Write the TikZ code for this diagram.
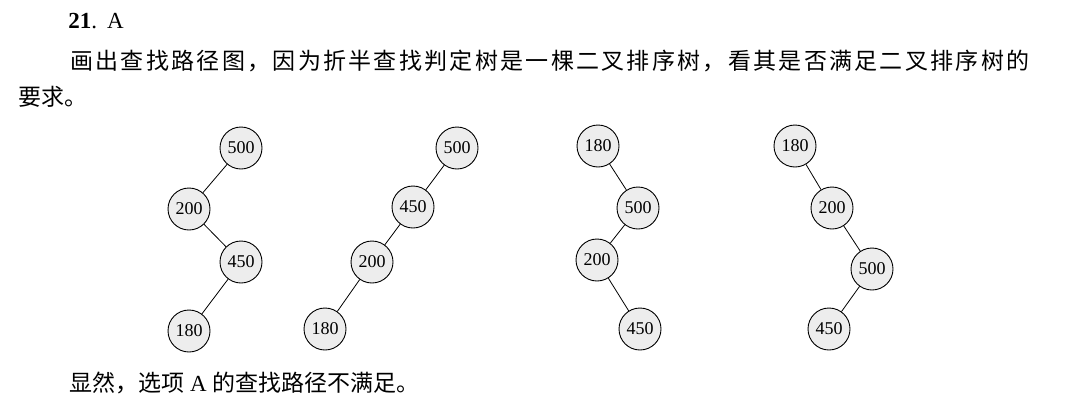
\documentclass[tikz,border=0pt]{standalone}
\usepackage{fontspec}
\setmainfont{Liberation Serif}
\newfontfamily\cjk{Noto Sans CJK SC}
\usepackage{tikz}
\usetikzlibrary{positioning}
\tikzset{
  keynode/.style={circle, draw, line width=0.9pt, fill=gray!14, minimum size=42pt, inner sep=0pt, font=\fontsize{18pt}{20pt}\selectfont},
  txt/.style={anchor=west, inner sep=0pt, font=\fontsize{23pt}{28pt}\selectfont}
}

\begin{document}
\begin{tikzpicture}[x=1pt,y=-1pt,on grid,line width=0.8pt]
    \useasboundingbox (0,0) rectangle (1070,405);

    % text lines
    \node[txt] (head)  at (68,21)  {\textbf{21}.\hspace{10pt}A};
    \node[txt] (line1) at (70,61)  {\cjk\addfontfeature{LetterSpace=10}画出查找路径图，因为折半查找判定树是一棵二叉排序树，看其是否满足二叉排序树的};
    \node[txt] (line2) at (18,97)  {\cjk 要求。};
    \node[txt] (last)  at (69,383) {{\cjk 显然，选项} A {\cjk 的查找路径不满足。}};

    % tree 1
    \node[keynode] (t1a) at (241,148)                       {500};
    \node[keynode] (t1b) [below left=61pt and 52pt of t1a]  {200};
    \node[keynode] (t1c) [below right=53pt and 52pt of t1b] {450};
    \node[keynode] (t1d) [below left=69pt and 52pt of t1c]  {180};

    % tree 2
    \node[keynode] (t2a) at (457,148)                       {500};
    \node[keynode] (t2b) [below left=59pt and 44pt of t2a]  {450};
    \node[keynode] (t2c) [below left=55pt and 41pt of t2b]  {200};
    \node[keynode] (t2d) [below left=67pt and 47pt of t2c]  {180};

    % tree 3
    \node[keynode] (t3a) at (598,146)                       {180};
    \node[keynode] (t3b) [below right=62pt and 40pt of t3a] {500};
    \node[keynode] (t3c) [below left=52pt and 41pt of t3b]  {200};
    \node[keynode] (t3d) [below right=69pt and 43pt of t3c] {450};

    % tree 4
    \node[keynode] (t4a) at (795,146)                       {180};
    \node[keynode] (t4b) [below right=62pt and 37pt of t4a] {200};
    \node[keynode] (t4c) [below right=61pt and 40pt of t4b] {500};
    \node[keynode] (t4d) [below left=60pt and 43pt of t4c]  {450};

    \path (t1a) edge (t1b)
    (t1b) edge (t1c)
    (t1c) edge (t1d)
    (t2a) edge (t2b)
    (t2b) edge (t2c)
    (t2c) edge (t2d)
    (t3a) edge (t3b)
    (t3b) edge (t3c)
    (t3c) edge (t3d)
    (t4a) edge (t4b)
    (t4b) edge (t4c)
    (t4c) edge (t4d)
    ;
\end{tikzpicture}
\end{document}
